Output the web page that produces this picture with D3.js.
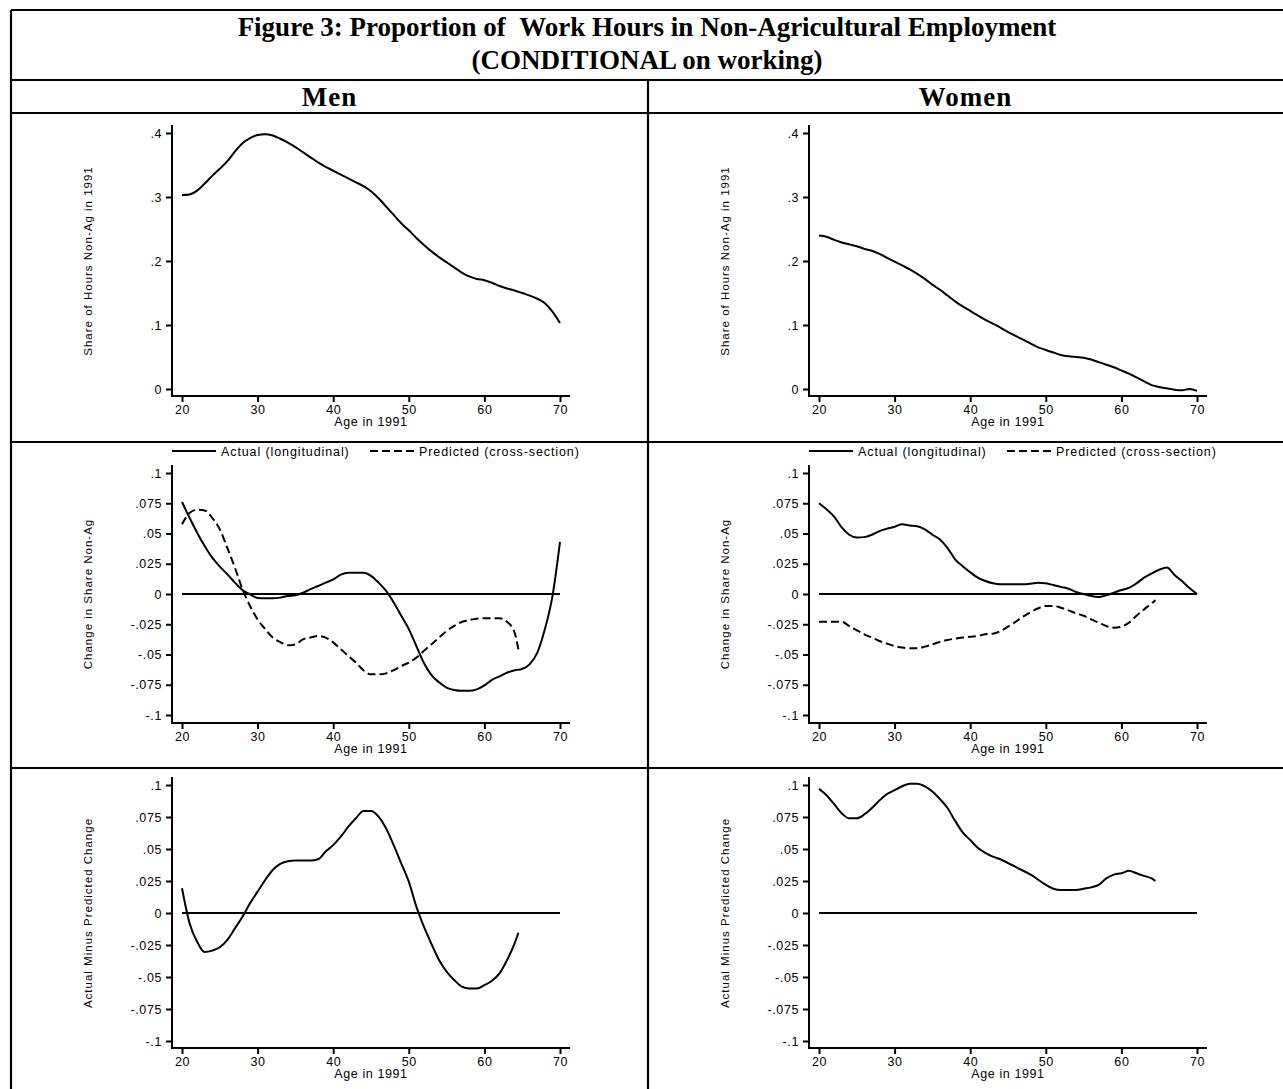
<!DOCTYPE html>
<meta charset="utf-8">
<style>* {padding:0; margin:0; border: 0; outline: 0;} body {background:#fff;}</style>
<body>
<script src="https://d3js.org/d3.v7.min.js"></script>
<script>

// ---- data ----
ages = d3.range(20, 71);                       // 20..70
predAges = d3.range(20, 65).concat([64.5]);    // predicted series stop at ~64.5

// panel 1: share of hours non-ag in 1991
menShare = [.303,.304,.310,.321,.333,.344,.356,.371,.384,.392,
            .397,.398,.396,.391,.385,.378,.370,.362,.354,.347,
            .341,.335,.329,.323,.317,.309,.298,.285,.272,.259,
            .248,.236,.225,.215,.206,.198,.190,.182,.176,.172,
            .170,.166,.161,.157,.154,.150,.146,.141,.134,.121,.103];
womenShare = [.240,.238,.233,.229,.226,.223,.219,.216,.211,.205,
              .199,.193,.187,.180,.172,.163,.155,.146,.137,.129,
              .122,.115,.108,.102,.096,.089,.083,.077,.071,.065,
              .061,.057,.053,.051,.050,.049,.046,.042,.038,.034,
              .029,.024,.018,.012,.006,.003,.001,-.001,-.002,.000,-.003];

// panel 2: change in share non-ag
menActual = [.076,.063,.0507,.0397,.030,.0226,.0163,.0094,.0033,-.0003,
             -.0033,-.0036,-.0036,-.003,-.0017,-.001,.001,.004,.0066,.0094,
             .012,.016,.0176,.0176,.0176,.015,.0094,.0025,-.007,-.018,
             -.029,-.043,-.057,-.067,-.073,-.0774,-.0793,-.080,-.080,-.0788,
             -.0755,-.071,-.068,-.065,-.063,-.062,-.058,-.0485,-.029,-.002,.043];
menPredicted = [.0576,.067,.0697,.069,.063,.0534,.038,.0218,.0039,-.0099,
                -.021,-.029,-.036,-.0397,-.0424,-.0416,-.0375,-.036,-.0347,-.036,
                -.040,-.0457,-.0512,-.0567,-.063,-.0664,-.0664,-.0656,-.063,-.0595,
                -.0567,-.0526,-.047,-.0416,-.036,-.0306,-.0264,-.0231,-.0215,-.0204,
                -.0201,-.0201,-.0201,-.023,-.032,-.046];
womenActual = [.075,.070,.064,.055,.049,.0466,.047,.049,.052,.054,
               .0556,.0576,.0567,.056,.0534,.049,.045,.038,.0287,.023,
               .018,.0135,.0107,.0088,.008,.008,.008,.008,.0085,.0094,
               .0088,.0074,.0058,.0044,.0017,0,-.0017,-.0025,-.001,.001,
               .0033,.005,.0088,.0135,.017,.020,.0218,.016,.0107,.005,0];
womenPredicted = [-.023,-.023,-.023,-.023,-.0265,-.030,-.0333,-.036,-.0388,-.041,
                  -.043,-.0443,-.0449,-.0449,-.0435,-.0416,-.0397,-.038,-.0369,-.036,
                  -.0353,-.0347,-.0333,-.0328,-.0306,-.027,-.023,-.0187,-.0149,-.0118,
                  -.0099,-.0099,-.0113,-.0135,-.016,-.018,-.021,-.0237,-.0265,-.0278,
                  -.027,-.0237,-.018,-.0127,-.0077,-.005];

// panel 3: actual minus predicted change
menDiff = [.0193,-.008,-.0224,-.0305,-.0294,-.0268,-.021,-.012,-.0029,.0076,
           .0167,.0258,.0336,.0383,.0405,.041,.041,.041,.042,.048,
           .053,.0596,.0674,.074,.0797,.0797,.0753,.066,.053,.0388,
           .0245,.005,-.0107,-.0242,-.0367,-.0458,-.0523,-.0575,-.059,-.059,
           -.0563,-.0529,-.0471,-.0367,-.0237,-.0154];
womenDiff = [.097,.092,.085,.078,.074,.074,.077,.082,.088,.093,
             .096,.099,.101,.101,.099,.095,.089,.082,.072,.063,
             .057,.051,.047,.044,.042,.039,.036,.033,.030,.026,
             .022,.019,.018,.018,.018,.019,.020,.022,.027,.030,
             .031,.033,.031,.029,.027,.025];

xTicks = [20, 30, 40, 50, 60, 70];
shareTicks = [0, .1, .2, .3, .4];
changeTicks = [-.1, -.075, -.05, -.025, 0, .025, .05, .075, .1];

titleLines = ["Figure 3: Proportion of \u00a0Work Hours in Non-Agricultural Employment",
              "(CONDITIONAL on working)"];
columnNames = ["Men", "Women"];
legendNames = ["Actual (longitudinal)", "Predicted (cross-section)"];

// ---- layout ----
width = 1283; height = 1089;
tableLeft = 11; divider = 648;
hLines = [10, 80, 113, 442, 768];
colShift = [0, 637];

rows = [
  {dom: [0, .4], range: [389, 133], top: 125, bottom: 396, ticks: shareTicks,
   label: "Share of Hours Non-Ag in 1991",
   series: [[{x: ages, y: menShare}], [{x: ages, y: womenShare}]]},
  {dom: [-.1, .1], range: [715, 473], top: 465, bottom: 723, ticks: changeTicks,
   label: "Change in Share Non-Ag", zero: true, legend: 451,
   series: [[{x: ages, y: menActual}, {x: predAges, y: menPredicted, dash: true}],
            [{x: ages, y: womenActual}, {x: predAges, y: womenPredicted, dash: true}]]},
  {dom: [-.1, .1], range: [1041, 785], top: 777, bottom: 1048, ticks: changeTicks,
   label: "Actual Minus Predicted Change", zero: true,
   series: [[{x: predAges, y: menDiff}], [{x: predAges, y: womenDiff}]]}
];

fmt = function(d) {
  if (d == 0) return "0";
  return String(+d.toFixed(3)).replace(/^(-?)0\./, "$1.");
};

svg = d3.select('body').append('svg')
        .attr('width', width)
        .attr('height', height)
        .style('display', 'block');

// table frame
svg.selectAll('line.hrule')
   .data(hLines)
 .enter().append('line')
   .attr('x1', tableLeft).attr('x2', width + 5)
   .attr('y1', function(d){return d;}).attr('y2', function(d){return d;})
   .attr('stroke', '#000').attr('stroke-width', 2.2);
svg.append('line')
   .attr('x1', tableLeft).attr('x2', tableLeft)
   .attr('y1', hLines[0]).attr('y2', height + 5)
   .attr('stroke', '#000').attr('stroke-width', 2.2);
svg.append('line')
   .attr('x1', divider).attr('x2', divider)
   .attr('y1', hLines[1]).attr('y2', height + 5)
   .attr('stroke', '#000').attr('stroke-width', 2.2);

// titles
svg.selectAll('text.title')
   .data(titleLines)
 .enter().append('text')
   .attr('x', (tableLeft + width) / 2)
   .attr('y', function(d, i){return 36 + i * 33;})
   .attr('text-anchor', 'middle')
   .style('font-family', '"Liberation Serif", "Times New Roman", serif')
   .style('font-weight', 'bold')
   .style('font-size', '27px')
   .text(function(d){return d;});

svg.selectAll('text.colname')
   .data(columnNames)
 .enter().append('text')
   .attr('x', function(d, i){return i == 0 ? (tableLeft + divider) / 2 : (divider + width) / 2;})
   .attr('y', 106)
   .attr('text-anchor', 'middle')
   .style('font-family', '"Liberation Serif", "Times New Roman", serif')
   .style('font-weight', 'bold')
   .style('font-size', '27px')
   .style('letter-spacing', '1px')
   .text(function(d){return d;});

sans = '"Liberation Sans", Arial, sans-serif';

rows.forEach(function(row) {
  colShift.forEach(function(dx, c) {
    var x = d3.scaleLinear().domain([20, 70]).range([182 + dx, 560 + dx]);
    var y = d3.scaleLinear().domain(row.dom).range(row.range);
    var axisX = 172 + dx;
    var g = svg.append('g');

    // y axis
    var ya = g.append('g')
      .attr('transform', 'translate(' + axisX + ',0)')
      .call(d3.axisLeft(y).tickValues(row.ticks).tickFormat(fmt).tickSize(6).tickSizeOuter(0).tickPadding(4));
    // x axis
    var xa = g.append('g')
      .attr('transform', 'translate(0,' + row.bottom + ')')
      .call(d3.axisBottom(x).tickValues(xTicks).tickFormat(d3.format('d')).tickSize(6).tickSizeOuter(0).tickPadding(3));
    [ya, xa].forEach(function(a) {
      a.select('.domain').remove();
      a.selectAll('line').attr('stroke', '#000').attr('stroke-width', 2);
      a.selectAll('text')
        .attr('fill', '#000')
        .style('font-family', sans)
        .style('font-size', '12.5px')
        .style('letter-spacing', '0.6px');
    });
    g.append('line')
      .attr('x1', axisX).attr('x2', axisX)
      .attr('y1', row.top).attr('y2', row.bottom + 1)
      .attr('stroke', '#000').attr('stroke-width', 2);
    g.append('line')
      .attr('x1', axisX - 1).attr('x2', x(70) + 10)
      .attr('y1', row.bottom).attr('y2', row.bottom)
      .attr('stroke', '#000').attr('stroke-width', 2);

    // axis titles
    g.append('text')
      .attr('transform', 'translate(' + (92 + dx) + ',' + ((row.range[0] + row.range[1]) / 2) + ') rotate(-90)')
      .attr('text-anchor', 'middle')
      .style('font-family', sans)
      .style('font-size', '11.5px')
      .style('letter-spacing', '1px')
      .text(row.label);
    g.append('text')
      .attr('x', x(45))
      .attr('y', row.bottom + 30)
      .attr('text-anchor', 'middle')
      .style('font-family', sans)
      .style('font-size', '12.5px')
      .style('letter-spacing', '0.6px')
      .text('Age in 1991');

    // zero reference line
    if (row.zero) {
      g.append('line')
        .attr('x1', x(20)).attr('x2', x(70))
        .attr('y1', y(0)).attr('y2', y(0))
        .attr('stroke', '#000').attr('stroke-width', 2);
    }

    // legend
    if (row.legend) {
      var lg = g.append('g');
      var items = [{x1: 172 + dx, x2: 216 + dx, tx: 221 + dx, dash: false, name: legendNames[0]},
                   {x1: 370 + dx, x2: 418 + dx, tx: 419 + dx, dash: true, name: legendNames[1]}];
      items.forEach(function(it) {
        lg.append('line')
          .attr('x1', it.x1).attr('x2', it.x2)
          .attr('y1', row.legend).attr('y2', row.legend)
          .attr('stroke', '#000').attr('stroke-width', 1.8)
          .attr('stroke-dasharray', it.dash ? '8,4' : null);
        lg.append('text')
          .attr('x', it.tx).attr('y', row.legend + 4.5)
          .style('font-family', sans)
          .style('font-size', '12.5px')
          .style('letter-spacing', '0.9px')
          .text(it.name);
      });
    }

    // data lines
    row.series[c].forEach(function(s) {
      var pts = s.x.map(function(a, i){return [a, s.y[i]];});
      g.append('path')
        .datum(pts)
        .attr('fill', 'none')
        .attr('stroke', '#000')
        .attr('stroke-width', 2)
        .attr('stroke-linejoin', 'round')
        .attr('stroke-dasharray', s.dash ? '8,4' : null)
        .attr('d', d3.line()
          .curve(d3.curveMonotoneX)
          .x(function(d){return x(d[0]);})
          .y(function(d){return y(d[1]);}));
    });
  });
});

</script>
